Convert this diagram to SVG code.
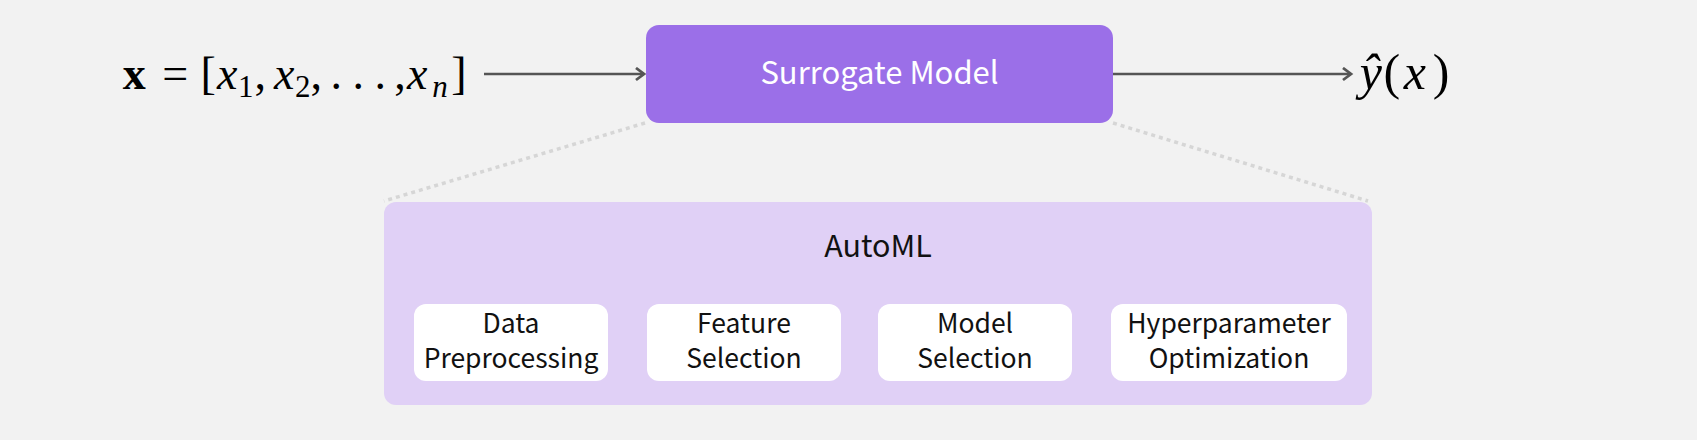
<svg xmlns="http://www.w3.org/2000/svg" width="1697" height="440" viewBox="0 0 1697 440">
<style>
.sans{font-family:"Noto Sans CJK KR","Noto Sans",sans-serif}
.math{font-family:"Liberation Serif","DejaVu Serif",serif;fill:#000}
.it{font-style:italic}
.label{font-size:26.5px;fill:#111;text-anchor:middle}
.inner{fill:#ffffff}
.conn-top{stroke:#555;stroke-width:2.5;fill:none}
.conn-in{stroke:#111;stroke-width:2;fill:none}
.dot{stroke:#d6d6d6;stroke-width:3.5;stroke-dasharray:4 4;fill:none}
</style>
<defs>
<marker id="headTop" markerUnits="userSpaceOnUse" markerWidth="14" markerHeight="16" refX="10" refY="7" orient="auto">
<path d="M2,1 L10,7 L2,13" fill="none" stroke="#555" stroke-width="2.8"/>
</marker>
<marker id="headIn" markerUnits="userSpaceOnUse" markerWidth="10" markerHeight="12" refX="8" refY="5" orient="auto">
<path d="M2,1 L8,5 L2,9" fill="none" stroke="#111" stroke-width="2"/>
</marker>
</defs>
<rect width="1697" height="440" fill="#f2f2f2"/>

<g id="connectors">
<line class="dot" x1="645" y1="123" x2="384" y2="201"/>
<line class="dot" x1="1113" y1="123" x2="1368" y2="201"/>
<line class="conn-top" x1="484" y1="74" x2="644" y2="74" marker-end="url(#headTop)"/>
<line class="conn-top" x1="1113" y1="74" x2="1351" y2="74" marker-end="url(#headTop)"/>
<line class="conn-in" x1="608" y1="342" x2="645" y2="342" marker-end="url(#headIn)"/>
<line class="conn-in" x1="841" y1="342" x2="876" y2="342" marker-end="url(#headIn)"/>
<line class="conn-in" x1="1072" y1="342" x2="1109" y2="342" marker-end="url(#headIn)"/>
</g>

<g id="input">
<text class="math" y="89" font-size="46" text-anchor="middle">
<tspan x="140" font-weight="bold">x</tspan>
<tspan x="181">=</tspan>
<tspan x="214">[</tspan>
<tspan x="233" class="it">x</tspan>
<tspan x="290" class="it">x</tspan>
<tspan x="342">.</tspan>
<tspan x="364">.</tspan>
<tspan x="386">.</tspan>
<tspan x="423" class="it">x</tspan>
<tspan x="459">]</tspan>
</text>
<text class="math" y="97" font-size="31" text-anchor="middle">
<tspan x="249.5">1</tspan>
<tspan x="306.5">2</tspan>
<tspan x="440" class="it">n</tspan>
</text>
<text class="math" y="89" font-size="46" text-anchor="middle">
<tspan x="266">,</tspan>
<tspan x="322">,</tspan>
<tspan x="400">,</tspan>
</text>
</g>

<g id="surrogate">
<rect x="646" y="25" width="467" height="98" rx="13" fill="#9b6fe8"/>
<text class="sans" x="879.5" y="84" font-size="31" fill="#ffffff" text-anchor="middle">Surrogate Model</text>
</g>

<g id="output">
<text class="math" y="89" font-size="50" text-anchor="middle">
<tspan x="1377" class="it">ŷ</tspan>
<tspan x="1398">(</tspan>
<tspan x="1421" class="it">x</tspan>
<tspan x="1441">)</tspan>
</text>
</g>

<g id="automl">
<rect x="384" y="202" width="988" height="203" rx="12" fill="#e0d0f6"/>
<text class="sans" x="878" y="257" font-size="30.5" fill="#111" text-anchor="middle">AutoML</text>
</g>

<g id="data-preprocessing">
<rect class="inner" x="414" y="304" width="194" height="77" rx="12"/>
<text class="sans label" x="511"><tspan x="511" y="333">Data</tspan><tspan x="511" y="368">Preprocessing</tspan></text>
</g>
<g id="feature-selection">
<rect class="inner" x="647" y="304" width="194" height="77" rx="12"/>
<text class="sans label" x="744"><tspan x="744" y="333">Feature</tspan><tspan x="744" y="368">Selection</tspan></text>
</g>
<g id="model-selection">
<rect class="inner" x="878" y="304" width="194" height="77" rx="12"/>
<text class="sans label" x="975"><tspan x="975" y="333">Model</tspan><tspan x="975" y="368">Selection</tspan></text>
</g>
<g id="hyperparameter-optimization">
<rect class="inner" x="1111" y="304" width="236" height="77" rx="12"/>
<text class="sans label" x="1229"><tspan x="1229" y="333">Hyperparameter</tspan><tspan x="1229" y="368">Optimization</tspan></text>
</g>
</svg>
